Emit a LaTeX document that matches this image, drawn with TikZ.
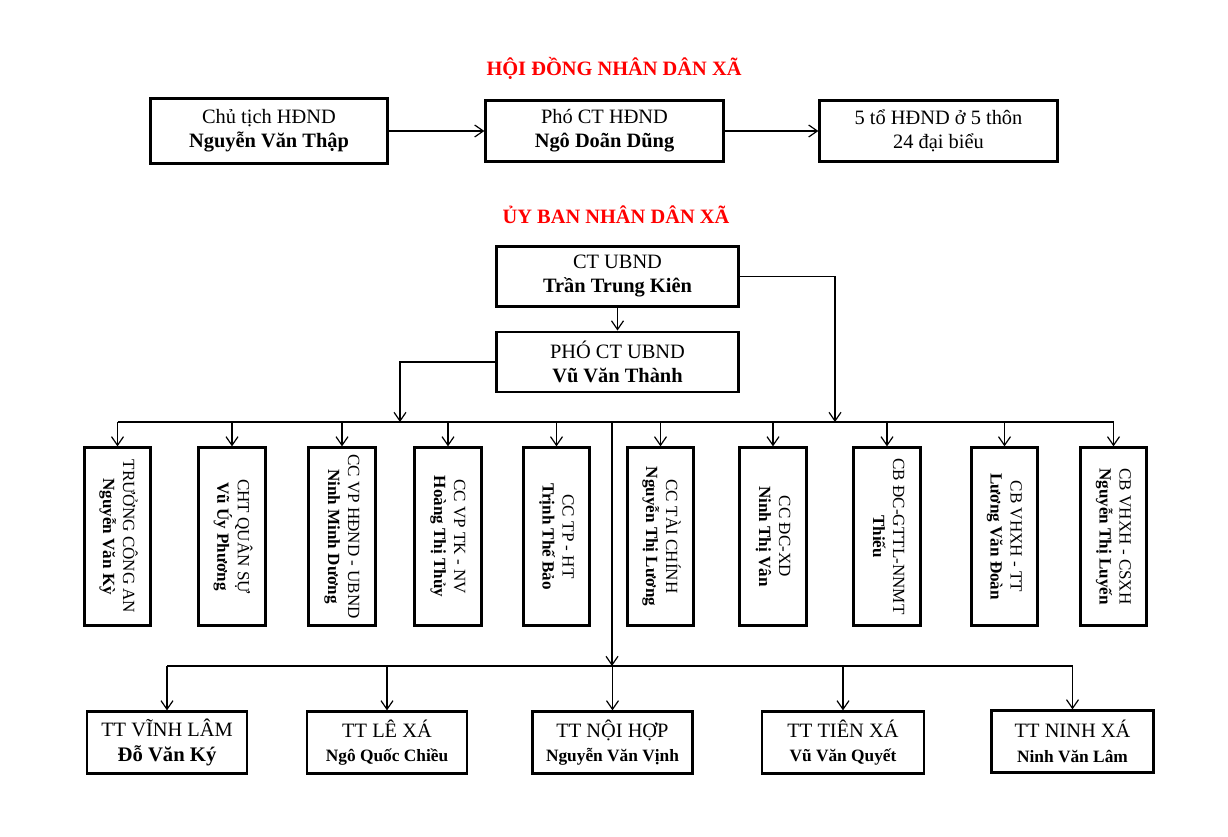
\documentclass[tikz,border=0pt]{standalone}
\usepackage{fontspec}
\setmainfont{Liberation Serif}
\usetikzlibrary{arrows.meta}
\newcommand\vertname[2]{\rotatebox{-90}{\begin{tabular}{@{}c@{}}#1\\\textbf{#2}\end{tabular}}}
\begin{document}
\begin{tikzpicture}[x=0.75pt,y=-0.75pt,
  title/.style={text=red,font=\fontsize{15.3}{18}\selectfont\bfseries},
  box/.style={draw,line width=2.2pt,align=center,inner sep=0pt,font=\fontsize{15.3}{18}\selectfont},
  wbox/.style={box,minimum width=178pt,minimum height=46pt},
  tbox/.style={box,minimum width=120pt,minimum height=46pt,font=\fontsize{15.3}{18.5}\selectfont},
  vbox/.style={draw,line width=2.2pt,inner sep=0pt,minimum width=50pt,minimum height=133pt,font=\fontsize{12.8}{15}\selectfont},
  arr/.style={-{Straight Barb[length=6.5pt,width=9pt]},line width=0.9pt}]
\useasboundingbox (0,0) rectangle (1228,837);
% hoi dong nhan dan
\node[title] (hdnd) at (614,68) {HỘI ĐỒNG NHÂN DÂN XÃ};
\node[wbox,minimum height=49pt] (hd1) at (269,131) {Chủ tịch HĐND\\\textbf{Nguyễn Văn Thập}};
\node[wbox] (hd2) at (604.5,131) {Phó CT HĐND\\\textbf{Ngô Doãn Dũng}};
\node[wbox] (hd3) at (938.5,131) {5 tổ HĐND ở 5 thôn\\24 đại biểu};
\draw[arr] (hd1) -- (hd2);
\draw[arr] (hd2) -- (hd3);
% uy ban nhan dan
\node[title] (ubnd) at (616,215) {ỦY BAN NHÂN DÂN XÃ};
\node[wbox,minimum width=182pt,minimum height=45pt] (ub1) at (617.5,276.5) {CT UBND\\\textbf{Trần Trung Kiên}};
\node[wbox,minimum width=182pt,minimum height=45pt] (ub2) at (617.5,362) {PHÓ CT UBND\\\textbf{Vũ Văn Thành}};
\coordinate (bus) at (612,422);
\coordinate (busL) at (400,422);
\coordinate (busR) at (835,422);
\coordinate (busB) at (612,666);
\draw[arr] (ub1) -- (ub2);
\draw[arr] (ub1.east) -| (busR);
\draw[arr] (ub2.west) -| (busL);
% cong chuc
\foreach \n/\x/\a/\b in {1/117.5/TRƯỞNG CÔNG AN/Nguyễn Văn Kỳ,
    2/232/CHT QUÂN SỰ/Vũ Úy Phương,
    3/342/CC VP HĐND - UBND/Ninh Minh Dương,
    4/448/CC VP TK - NV/Hoàng Thị Thủy,
    5/556.5/CC TP - HT/Trịnh Thế Bảo,
    6/660.5/CC TÀI CHÍNH/Nguyễn Thị Lương,
    7/773/CC ĐC-XD/Ninh Thị Vân,
    8/887/CB ĐC-GTTL-NNMT/Thiếu,
    9/1004.5/CB VHXH - TT/Lương Văn Đoàn,
    10/1113.5/CB VHXH - CSXH/Nguyễn Thị Luyến}
  \node[vbox] (v\n) at (\x,536.5) {\vertname{\a}{\b}};
\draw[line width=0.9pt] (v1 |- bus) -- (v10 |- bus);
\foreach \n in {1,...,10}
  \draw[arr] (v\n |- bus) -- (v\n);
\draw[arr] (bus) -- (busB);
% thon
\node[tbox] (b1) at (167,742.5) {TT VĨNH LÂM\\\textbf{\fontsize{15.5}{18.5}\selectfont Đỗ Văn Ký}};
\node[tbox] (b2) at (387,742.5) {TT LÊ XÁ\\\textbf{\fontsize{13}{18.5}\selectfont Ngô Quốc Chiều}};
\node[tbox] (b3) at (612.5,742.5) {TT NỘI HỢP\\\textbf{\fontsize{13}{18.5}\selectfont Nguyễn Văn Vịnh}};
\node[tbox,minimum width=121.5pt] (b4) at (843,742.5) {TT TIÊN XÁ\\\textbf{\fontsize{13}{18.5}\selectfont Vũ Văn Quyết}};
\node[tbox,minimum width=122pt] (b5) at (1072.5,741.5) {TT NINH XÁ\\\textbf{\fontsize{13}{18.5}\selectfont Ninh Văn Lâm}};
\draw[line width=0.9pt] (b1 |- busB) -- (b5 |- busB);
\foreach \n in {1,...,5}
  \draw[arr] (b\n |- busB) -- (b\n);
\end{tikzpicture}
\end{document}
